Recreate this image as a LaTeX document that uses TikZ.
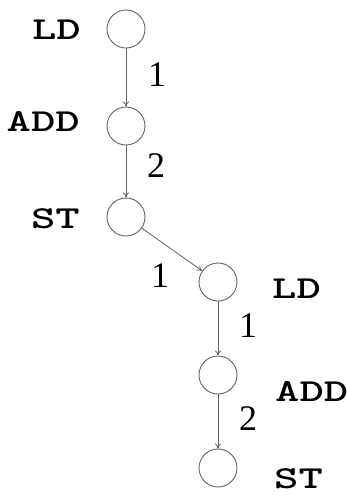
\documentclass[tikz,border=0pt]{standalone}
\usepackage{fontspec}
\setmainfont{Liberation Serif}
\usetikzlibrary{arrows.meta,positioning}
\definecolor{edgegray}{RGB}{100,100,100}
% wide bold typewriter names for the operations
\newcommand{\opword}[1]{\scalebox{1.45}[1]{\ttfamily\bfseries #1}}

\begin{document}
\begin{tikzpicture}[x=1pt,y=-1pt,
  op/.style={circle, draw=edgegray, line width=0.9pt, minimum size=38pt, inner sep=0pt},
  opname/.style={font=\fontsize{32}{32}\selectfont, inner sep=0pt},
  dep/.style={draw=edgegray, line width=0.8pt, -{To[length=5pt,width=6pt]}},
  lat/.style={font=\fontsize{36}{36}\selectfont, inner sep=0pt}]
\useasboundingbox (0,0) rectangle (347,496);
% first block (left column)
\node[op] (ld1) at (126,29) {};
\node[op] (add1) at (126,126) {};
\node[op] (st1) at (126,217) {};
\node[opname, anchor=east] (ld1n) at (81,30) {\opword{LD}};
\node[opname, anchor=east] (add1n) at (80,122) {\opword{ADD}};
\node[opname, anchor=east] (st1n) at (80,219) {\opword{ST}};
% second block (right column)
\node[op] (ld2) at (218,282) {};
\node[op] (add2) at (218,375) {};
\node[op] (st2) at (218,468) {};
\node[opname, anchor=west] (ld2n) at (272,289) {\opword{LD}};
\node[opname, anchor=west] (add2n) at (275,392) {\opword{ADD}};
\node[opname, anchor=west] (st2n) at (274,479) {\opword{ST}};
% dependences with latencies
\draw[dep] (ld1) -- (add1);
\draw[dep] (add1) -- (st1);
\draw[dep] (st1) -- (ld2);
\draw[dep] (ld2) -- (add2);
\draw[dep] (add2) -- (st2);
\node[lat] (l1) at (157,75) {1};
\node[lat] (l2) at (156,166) {2};
\node[lat] (l3) at (160,276) {1};
\node[lat] (l4) at (248,326) {1};
\node[lat] (l5) at (248,419) {2};
\end{tikzpicture}
\end{document}
